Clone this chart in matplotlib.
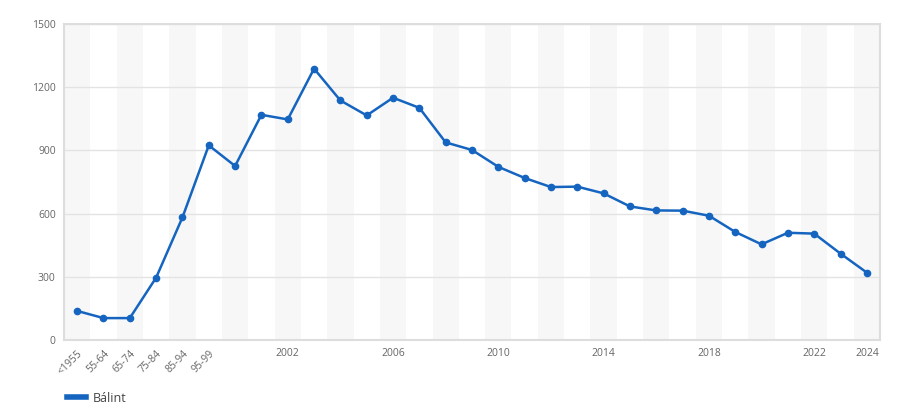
import matplotlib
matplotlib.use("Agg")
import matplotlib.pyplot as plt
from matplotlib.lines import Line2D

plt.rcParams['font.family'] = ['Open Sans', 'DejaVu Sans']

categories = ["<1955", "55-64", "65-74", "75-84", "85-94", "95-99"] + [str(y) for y in range(2000, 2025)]
values = [138, 104, 104, 296, 582, 924, 826, 1069, 1047, 1288, 1137, 1066, 1150, 1102,
          938, 902, 822, 769, 726, 728, 696, 634, 615, 614, 590, 513, 454, 509, 505, 410, 320]
shown_labels = {"<1955", "55-64", "65-74", "75-84", "85-94", "95-99",
                "2002", "2006", "2010", "2014", "2018", "2022", "2024"}
series_name = "Bálint"

color = "#1565c0"
fig = plt.figure(figsize=(9, 4.2), dpi=100)
ax = fig.add_axes([64/900, 80/420, 816/900, 316/420])

n = len(categories)
x = list(range(n))
for i in range(0, n, 2):
    ax.axvspan(i - 0.5, i + 0.5, color="#f7f7f7", zorder=0, lw=0)

ax.set_ylim(0, 1500)
ax.set_xlim(-0.5, n - 0.5)
ax.set_yticks([0, 300, 600, 900, 1200, 1500])
ax.yaxis.grid(True, color="#e3e3e3", lw=1, zorder=1)
ax.set_axisbelow(True)

ax.plot(x, values, color=color, lw=1.8, marker="o", ms=4.5, zorder=3)

for s in ax.spines.values():
    s.set_color("#dddddd")
    s.set_linewidth(1.5)

ticks = [i for i, c in enumerate(categories) if c in shown_labels]
ax.set_xticks(ticks)
ax.set_xticklabels([categories[i] for i in ticks])
for i, lab in zip(ticks, ax.get_xticklabels()):
    if i < 6:
        lab.set_rotation(45)
        lab.set_ha("right")
        lab.set_rotation_mode("anchor")
ax.tick_params(axis="both", length=0, labelsize=7.5, colors="#666666", pad=6)
ax.tick_params(axis="y", pad=6)

handle = Line2D([], [], color=color, lw=4)
fig.legend([handle], [series_name], loc="center left", bbox_to_anchor=(56/900, 1 - 398/420),
           frameon=False, fontsize=9, handlelength=1.5, handletextpad=0.5,
           labelcolor="#444444")

fig.savefig("out.png", dpi=100, facecolor="white")
